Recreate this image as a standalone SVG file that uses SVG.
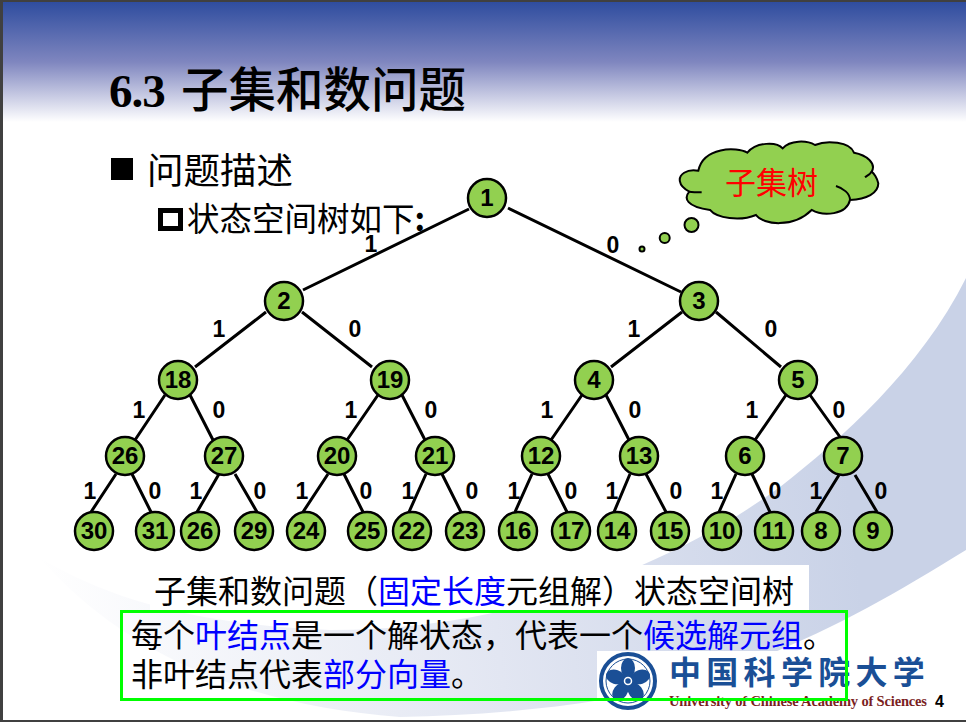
<svg xmlns="http://www.w3.org/2000/svg" width="966" height="722" viewBox="0 0 966 722">
<style>
.n{fill:#92d050;stroke:#000;stroke-width:2.5}
.t{font:bold 24px "Liberation Sans",Arial,sans-serif;text-anchor:middle;fill:#000}
.e{font:bold 23px "Liberation Sans",Arial,sans-serif;text-anchor:middle;fill:#000}
.c{stroke:#000;stroke-width:3;fill:none}
.z{font-family:"Noto Sans CJK SC","Liberation Sans",sans-serif;fill:#000}
.b{fill:#0000ff}
</style>
<defs>
<linearGradient id="hd" x1="0" y1="0" x2="0" y2="1"><stop offset="0" stop-color="#2f4d9f"/><stop offset="0.5" stop-color="#7f86bf"/><stop offset="1" stop-color="#ffffff"/></linearGradient>
<linearGradient id="sw" gradientUnits="userSpaceOnUse" x1="40" y1="600" x2="850" y2="500"><stop offset="0" stop-color="#ffffff"/><stop offset="0.55" stop-color="#e2e6f2"/><stop offset="1" stop-color="#c9d2e7"/></linearGradient>
</defs>
<rect width="966" height="722" fill="#ffffff"/>
<rect x="3" y="2" width="963" height="120" fill="url(#hd)"/>
<path d="M40 558C110 600 200 625 330 630C520 630 680 560 780 487C840 440 920 370 966 278L966 550C880 603 810 643 700 680C600 705 500 715 400 717C240 705 120 650 40 558Z" fill="url(#sw)"/>
<path d="M3 0H966V2H3ZM0 0H3V722H0ZM0 720H966V722H0Z" fill="#404040"/>
<rect x="150" y="565" width="659" height="48" fill="#ffffff"/>
<text x="109" y="107" font-family="Liberation Serif,serif" font-weight="bold" font-size="47" letter-spacing="-1" fill="#000">6.3</text>
<text x="181" y="107" class="z" font-size="47.5" font-weight="500">子集和数问题</text>
<rect x="111" y="158" width="22" height="22" fill="#000"/>
<text x="147" y="184" class="z" font-size="36.5">问题描述</text>
<rect x="160.5" y="210.5" width="20" height="18" fill="#fff" stroke="#000" stroke-width="5"/>
<text x="187" y="231" class="z" font-size="32.5">状态空间树如下<tspan font-weight="bold">:</tspan></text>
<g id="connectors" class="c">
<path d="M469 209L303 290M508 208L681 292"/>
<path d="M266 312L195 367M302 312L372 367M682 312L611 367M716 312L781 367"/>
<path d="M165 395L135 440M190 395L213 440M378 395L347 440M402 395L425 440M582 395L551 440M606 395L629 440M786 395L755 440M810 395L840 437"/>
<path d="M116 474L91 512M132 474L151 512M219 474L197 512M235 474L257 512M328 474L303 512M344 474L363 512M426 474L409 512M442 474L461 512M532 474L515 512M548 474L567 512M630 474L614 512M646 474L666 512M736 474L719 512M752 474L770 512M839 475L816 512M855 475L877 512"/>
</g>
<g id="edge-labels" class="e">
<text x="371" y="252">1</text><text x="613" y="253">0</text>
<text x="219" y="337">1</text><text x="355" y="337">0</text><text x="634" y="337">1</text><text x="771" y="337">0</text>
<text x="139" y="418">1</text><text x="219" y="418">0</text><text x="351" y="418">1</text><text x="431" y="418">0</text><text x="547" y="418">1</text><text x="635" y="418">0</text><text x="752" y="418">1</text><text x="839" y="418">0</text>
<text x="90" y="499">1</text><text x="155" y="499">0</text><text x="196" y="499">1</text><text x="260" y="499">0</text><text x="302" y="499">1</text><text x="366" y="499">0</text><text x="408" y="499">1</text><text x="472" y="499">0</text><text x="514" y="499">1</text><text x="571" y="499">0</text><text x="612" y="499">1</text><text x="676" y="499">0</text><text x="717" y="499">1</text><text x="775" y="499">0</text><text x="816" y="499">1</text><text x="881" y="499">0</text>
</g>
<g id="n1"><circle class="n" cx="487" cy="198" r="19"/><text class="t" x="487" y="206">1</text></g>
<g id="n2"><circle class="n" cx="284" cy="301" r="19"/><text class="t" x="284" y="309">2</text></g>
<g id="n3"><circle class="n" cx="699" cy="301" r="19"/><text class="t" x="699" y="309">3</text></g>
<g id="n18"><circle class="n" cx="178" cy="380" r="19"/><text class="t" x="178" y="388">18</text></g>
<g id="n19"><circle class="n" cx="390" cy="380" r="19"/><text class="t" x="390" y="388">19</text></g>
<g id="n4"><circle class="n" cx="594" cy="380" r="19"/><text class="t" x="594" y="388">4</text></g>
<g id="n5"><circle class="n" cx="798" cy="380" r="19"/><text class="t" x="798" y="388">5</text></g>
<g id="n26a"><circle class="n" cx="125" cy="456" r="19"/><text class="t" x="125" y="464">26</text></g>
<g id="n27"><circle class="n" cx="224" cy="456" r="19"/><text class="t" x="224" y="464">27</text></g>
<g id="n20"><circle class="n" cx="337" cy="456" r="19"/><text class="t" x="337" y="464">20</text></g>
<g id="n21"><circle class="n" cx="435" cy="456" r="19"/><text class="t" x="435" y="464">21</text></g>
<g id="n12"><circle class="n" cx="541" cy="456" r="19"/><text class="t" x="541" y="464">12</text></g>
<g id="n13"><circle class="n" cx="639" cy="456" r="19"/><text class="t" x="639" y="464">13</text></g>
<g id="n6"><circle class="n" cx="745" cy="456" r="19"/><text class="t" x="745" y="464">6</text></g>
<g id="n7"><circle class="n" cx="843" cy="456" r="19"/><text class="t" x="843" y="464">7</text></g>
<g id="n30"><circle class="n" cx="94" cy="531" r="19"/><text class="t" x="94" y="539">30</text></g>
<g id="n31"><circle class="n" cx="155" cy="531" r="19"/><text class="t" x="155" y="539">31</text></g>
<g id="n26b"><circle class="n" cx="200" cy="531" r="19"/><text class="t" x="200" y="539">26</text></g>
<g id="n29"><circle class="n" cx="254" cy="531" r="19"/><text class="t" x="254" y="539">29</text></g>
<g id="n24"><circle class="n" cx="306" cy="531" r="19"/><text class="t" x="306" y="539">24</text></g>
<g id="n25"><circle class="n" cx="367" cy="531" r="19"/><text class="t" x="367" y="539">25</text></g>
<g id="n22"><circle class="n" cx="412" cy="531" r="19"/><text class="t" x="412" y="539">22</text></g>
<g id="n23"><circle class="n" cx="465" cy="531" r="19"/><text class="t" x="465" y="539">23</text></g>
<g id="n16"><circle class="n" cx="518" cy="531" r="19"/><text class="t" x="518" y="539">16</text></g>
<g id="n17"><circle class="n" cx="571" cy="531" r="19"/><text class="t" x="571" y="539">17</text></g>
<g id="n14"><circle class="n" cx="617" cy="531" r="19"/><text class="t" x="617" y="539">14</text></g>
<g id="n15"><circle class="n" cx="670" cy="531" r="19"/><text class="t" x="670" y="539">15</text></g>
<g id="n10"><circle class="n" cx="722" cy="531" r="19"/><text class="t" x="722" y="539">10</text></g>
<g id="n11"><circle class="n" cx="774" cy="531" r="19"/><text class="t" x="774" y="539">11</text></g>
<g id="n8"><circle class="n" cx="821" cy="531" r="19"/><text class="t" x="821" y="539">8</text></g>
<g id="n9"><circle class="n" cx="873" cy="531" r="19"/><text class="t" x="873" y="539">9</text></g>
<g id="cloud">
<g transform="translate(670 140) scale(.3333)" stroke="#000" stroke-width="6">
<path d="M85 92C50 85 25 105 30 125C32 140 45 148 58 155C40 175 50 200 120 210C140 235 210 245 258 225C280 255 370 265 425 210C460 230 530 225 540 180C590 178 625 160 625 130C622 115 612 100 605 95C620 70 590 45 552 38C540 5 470 0 435 15C410 0 360 0 338 25C320 5 260 5 232 38C200 20 100 20 85 92Z" fill="#92d050"/>
<path d="M58 155C70 157 85 157 95 157M540 180C540 160 520 145 498 138M605 95C600 103 590 108 585 112" fill="none"/>
</g>
<circle cx="691.5" cy="225" r="7" fill="#92d050" stroke="#000" stroke-width="2"/>
<circle cx="664.7" cy="238" r="5" fill="#92d050" stroke="#000" stroke-width="2"/>
<circle cx="642" cy="249" r="2.5" fill="#92d050" stroke="#000" stroke-width="2"/>
<text x="725" y="194" class="z" font-size="31" style="fill:#ff0000">子集树</text>
</g>
<g id="caption"><text x="154" y="603" class="z" font-size="32">子集和数问题（<tspan class="b">固定长度</tspan>元组解）状态空间树</text></g>
<g id="logo">
<rect x="597" y="651" width="369" height="69" fill="#ffffff"/>
<circle cx="628" cy="681" r="27" fill="#fff" stroke="#1a4f96" stroke-width="4"/>
<circle cx="628" cy="681" r="22" fill="#fff" stroke="#1a4f96" stroke-width="1"/>
<g fill="#1a4f96">
<ellipse cx="628" cy="668" rx="7" ry="10"/>
<ellipse cx="628" cy="668" rx="7" ry="10" transform="rotate(72 628 681)"/>
<ellipse cx="628" cy="668" rx="7" ry="10" transform="rotate(144 628 681)"/>
<ellipse cx="628" cy="668" rx="7" ry="10" transform="rotate(216 628 681)"/>
<ellipse cx="628" cy="668" rx="7" ry="10" transform="rotate(288 628 681)"/>
<circle cx="628" cy="681" r="9"/>
</g>
<circle cx="628" cy="681" r="3.5" fill="none" stroke="#fff" stroke-width="1.5"/>
<text x="669" y="684" font-family="Noto Sans CJK SC,sans-serif" font-weight="bold" font-size="32" fill="#1a4f96" letter-spacing="5.3">中国科学院大学</text>
<text x="669" y="706" font-family="Liberation Serif,serif" font-weight="bold" font-size="14.5" fill="#7b1f1f" textLength="258">University of Chinese Academy of Sciences</text>
<text x="935" y="707" font-family="Liberation Sans,sans-serif" font-weight="bold" font-size="16" fill="#000">4</text>
</g>
<g id="note">
<rect x="121.5" y="611.5" width="725" height="88" fill="none" stroke="#00ff00" stroke-width="3"/>
<text x="131" y="647" class="z" font-size="32">每个<tspan class="b">叶结点</tspan>是一个解状态，代表一个<tspan class="b">候选解元组</tspan>。</text>
<text x="131" y="686" class="z" font-size="32">非叶结点代表<tspan class="b">部分向量</tspan>。</text>
</g>
</svg>
